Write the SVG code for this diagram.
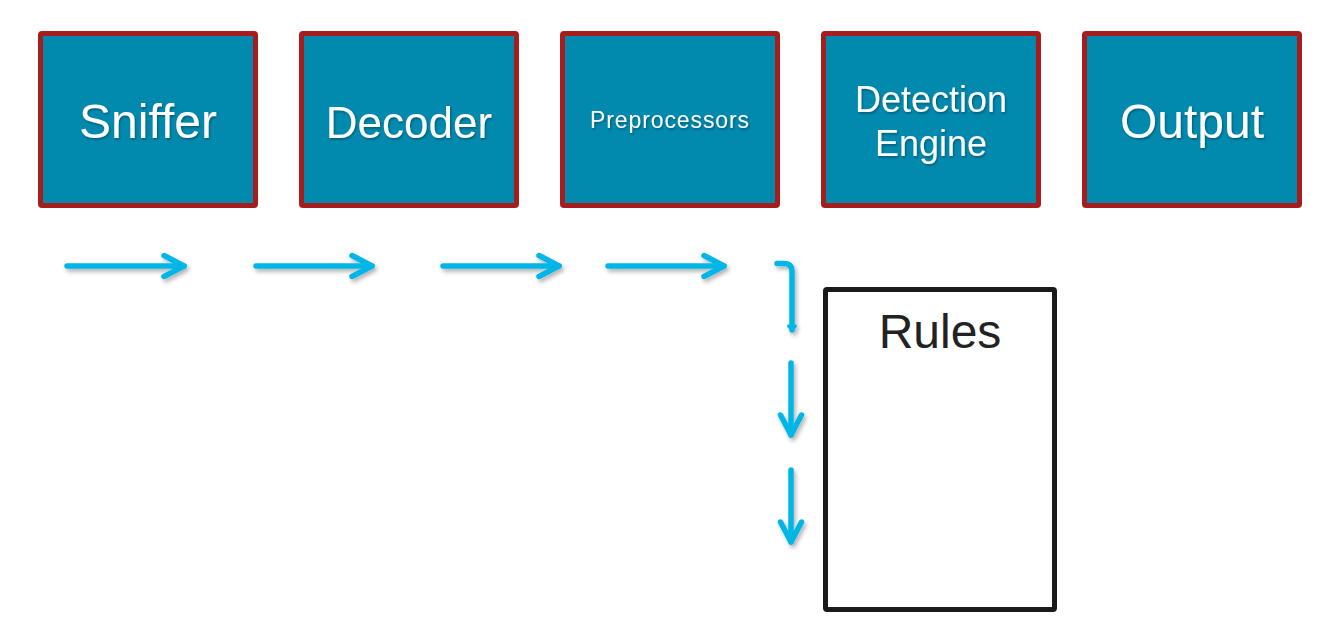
<svg xmlns="http://www.w3.org/2000/svg" width="1322" height="636" viewBox="0 0 1322 636">
<defs>
<style>
.box{fill:#0189ae;stroke:#a71d1d;stroke-width:5;}
.lbl{font-family:"Liberation Sans",Arial,sans-serif;fill:#ffffff;text-anchor:middle;}
.arr{fill:none;stroke:#00b6e6;stroke-width:5.5;stroke-linecap:round;stroke-linejoin:round;}
.rules{fill:#ffffff;stroke:#1a1a1a;stroke-width:5;}
</style>
<filter id="sh" x="-20%" y="-50%" width="140%" height="200%">
<feDropShadow dx="2" dy="3" stdDeviation="2" flood-color="#000" flood-opacity="0.3"/>
</filter>
<filter id="tsh" x="-10%" y="-20%" width="120%" height="140%">
<feDropShadow dx="1" dy="1.5" stdDeviation="1" flood-color="#000" flood-opacity="0.35"/>
</filter>
<marker id="ah" markerUnits="userSpaceOnUse" viewBox="-25 -14 30 28" refX="0" refY="0" markerWidth="30" markerHeight="28" orient="auto" overflow="visible">
<path d="M-20,-10.5 L0,0 L-20,10.5" fill="none" stroke="#00b6e6" stroke-width="5.5" stroke-linecap="round" stroke-linejoin="round"/>
</marker>
<marker id="ahs" markerUnits="userSpaceOnUse" viewBox="-10 -6 12 12" refX="0" refY="0" markerWidth="12" markerHeight="12" orient="auto" overflow="visible">
<path d="M-4,-3.5 L0,0 L-4,3.5" fill="none" stroke="#00b6e6" stroke-width="3" stroke-linecap="round" stroke-linejoin="round"/>
</marker>
</defs>
<rect width="1322" height="636" fill="#ffffff"/>
<g id="sniffer">
<rect class="box" x="40.5" y="33.5" width="215" height="172" rx="1.5"/>
<text class="lbl" x="148" y="138" font-size="48" filter="url(#tsh)">Sniffer</text>
</g>
<g id="decoder">
<rect class="box" x="301.5" y="33.5" width="215" height="172" rx="1.5"/>
<text class="lbl" x="409" y="138" font-size="44" filter="url(#tsh)">Decoder</text>
</g>
<g id="preprocessors">
<rect class="box" x="562.5" y="33.5" width="215" height="172" rx="1.5"/>
<text class="lbl" x="670" y="127.5" font-size="23" letter-spacing="0.9" filter="url(#tsh)">Preprocessors</text>
</g>
<g id="detection">
<rect class="box" x="823.5" y="33.5" width="215" height="172" rx="1.5"/>
<text class="lbl" x="931" y="112" font-size="36" filter="url(#tsh)">Detection</text>
<text class="lbl" x="931" y="156" font-size="36" filter="url(#tsh)">Engine</text>
</g>
<g id="output">
<rect class="box" x="1084.5" y="33.5" width="215" height="172" rx="1.5"/>
<text class="lbl" x="1192" y="138" font-size="48" filter="url(#tsh)">Output</text>
</g>
<g id="rules">
<rect class="rules" x="825.5" y="289.5" width="229" height="320" rx="1.5"/>
<text x="940" y="348" font-size="48" font-family="Liberation Sans,Arial,sans-serif" fill="#222222" text-anchor="middle">Rules</text>
</g>
<g id="connectors" filter="url(#sh)">
<path class="arr" d="M67,266 L184,266" marker-end="url(#ah)"/>
<path class="arr" d="M256,266 L372,266" marker-end="url(#ah)"/>
<path class="arr" d="M443,266 L559,266" marker-end="url(#ah)"/>
<path class="arr" d="M608,266 L724,266" marker-end="url(#ah)"/>
<path class="arr" d="M777,263.5 L784,263.5 Q792,263.5 792,271.5 L792,330" marker-end="url(#ahs)"/>
<path class="arr" d="M791,363 L791,435" marker-end="url(#ah)"/>
<path class="arr" d="M791,470 L791,542" marker-end="url(#ah)"/>
</g>
</svg>
